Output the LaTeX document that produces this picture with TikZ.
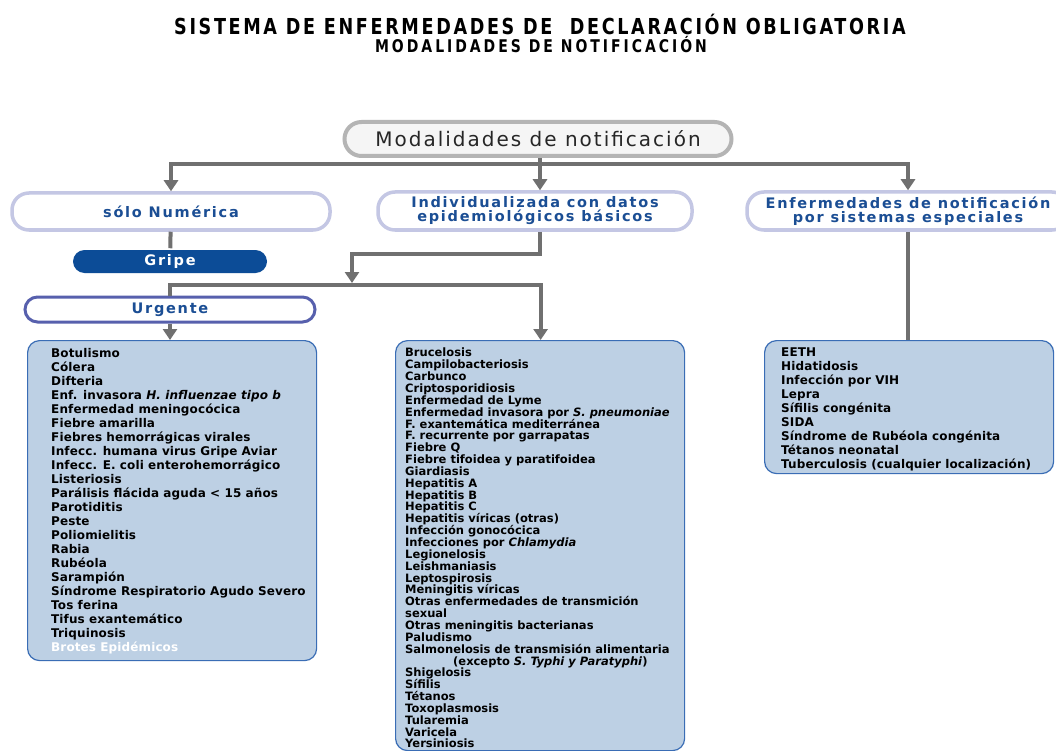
\documentclass[tikz,border=0pt]{standalone}
\usepackage{fontspec}
\setmainfont{DejaVu Sans}
\newfontfamily\titlefont[FakeStretch=0.8, LetterSpace=12]{DejaVu Sans}
\newfontfamily\subtitlefont[FakeStretch=0.8, LetterSpace=17]{DejaVu Sans}
\newfontfamily\headfont[LetterSpace=10]{DejaVu Sans}
\newfontfamily\pillfont[LetterSpace=12]{DejaVu Sans}
\newfontfamily\listfont[LetterSpace=1]{DejaVu Sans}
\newfontfamily\midlistfont[LetterSpace=0]{DejaVu Sans}
\newcommand\tightlines{\lineskiplimit=-20pt\relax}
\usetikzlibrary{arrows.meta}
\usetikzlibrary{positioning, calc}

\definecolor{linkgray}{HTML}{707070}
\definecolor{pillblue}{HTML}{1B4E94}
\definecolor{gripeblue}{HTML}{0C4C97}
\definecolor{boxfill}{HTML}{BDD0E4}
\definecolor{boxline}{HTML}{3A6DB5}
\definecolor{pillring}{HTML}{C4C7E4}
\definecolor{urgring}{HTML}{5760AD}
\definecolor{headring}{HTML}{B4B4B4}

\begin{document}
\begin{tikzpicture}[x=1pt, y=-1pt,
    link/.style={linkgray, line width=4pt},
    arrow/.style={link, -{Triangle[width=14pt, length=11pt]}},
    pill/.style={draw=pillring, line width=3.5pt, fill=white, rounded corners=17pt, inner sep=0pt, align=center, text=pillblue, font=\pillfont\bfseries\fontsize{14.5}{14}\selectfont},
    headpill/.style={pill, draw=headring, fill=gray!8, line width=4pt, text=black!85, font=\headfont\fontsize{20}{20}\selectfont},
    listbox/.style={draw=boxline, line width=1.2pt, fill=boxfill, rounded corners=12pt, anchor=north west},
    listtext/.style={inner sep=0pt, align=left, anchor=north west, font=\listfont\bfseries\fontsize{12}{14}\selectfont\tightlines}
]
    \fill[white] (0,0) rectangle (1056,751);
    \useasboundingbox (0,0) rectangle (1056,751);

    \node[font=\titlefont\bfseries\fontsize{22}{22}\selectfont] (title) at (540,24) {SISTEMA DE ENFERMEDADES DE \ DECLARACIÓN OBLIGATORIA};
    \node[font=\subtitlefont\bfseries\fontsize{17.5}{18}\selectfont] (subtitle) at (541,45) {MODALIDADES DE NOTIFICACIÓN};

    \node[headpill, minimum width=387pt, minimum height=34pt] (mod) at (538,139) {Modalidades de notificación};

    \node[pill, minimum width=318pt, minimum height=37pt] (num) at (171,211.5) {sólo Numérica};
    \node[pill, minimum width=314pt, minimum height=38pt] (ind) at (535,211) {Individualizada con datos\\epidemiológicos básicos};
    \node[pill, minimum width=322pt, minimum height=38pt] (esp) at (908,211) {Enfermedades de notificación\\por sistemas especiales};

    \node[pill, draw=none, fill=gripeblue, text=white, rounded corners=11.5pt, minimum width=194pt, minimum height=23pt] (gripe) at (170,261.5) {Gripe};
    \node[pill, draw=urgring, line width=3pt, rounded corners=12.5pt, minimum width=290pt, minimum height=25pt] (urg) at (170,309.5) {Urgente};

    % disease lists
    \node[listbox, minimum width=289pt, minimum height=320pt] (urgbox) at (27,340) {};
    \node[listbox, minimum width=289pt, minimum height=410pt] (indbox) at (395,340) {};
    \node[listbox, minimum width=289pt, minimum height=133pt] (espbox) at (764,340) {};

    \node[listtext, below right=8pt and 24pt of urgbox.north west] (urglist) {Botulismo\\
        Cólera\\
        Difteria\\
        Enf. invasora \textit{H. influenzae tipo b}\\
        Enfermedad meningocócica\\
        Fiebre amarilla\\
        Fiebres hemorrágicas virales\\
        Infecc. humana virus Gripe Aviar\\
        Infecc. E. coli enterohemorrágico\\
        Listeriosis\\
        Parálisis flácida aguda < 15 años\\
        Parotiditis\\
        Peste\\
        Poliomielitis\\
        Rabia\\
        Rubéola\\
        Sarampión\\
        Síndrome Respiratorio Agudo Severo\\
        Tos ferina\\
        Tifus exantemático\\
        Triquinosis\\
        \textcolor{white}{Brotes Epidémicos}};
    \node[listtext, font=\midlistfont\bfseries\fontsize{11.5}{11.85}\selectfont\tightlines, below right=8pt and 10pt of indbox.north west] (indlist) {Brucelosis\\
        Campilobacteriosis\\
        Carbunco\\
        Criptosporidiosis\\
        Enfermedad de Lyme\\
        Enfermedad invasora por \textit{S. pneumoniae}\\
        F. exantemática mediterránea\\
        F. recurrente por garrapatas\\
        Fiebre Q\\
        Fiebre tifoidea y paratifoidea\\
        Giardiasis\\
        Hepatitis A\\
        Hepatitis B\\
        Hepatitis C\\
        Hepatitis víricas (otras)\\
        Infección gonocócica\\
        Infecciones por \textit{Chlamydia}\\
        Legionelosis\\
        Leishmaniasis\\
        Leptospirosis\\
        Meningitis víricas\\
        Otras enfermedades de transmición\\
        sexual\\
        Otras meningitis bacterianas\\
        Paludismo\\
        Salmonelosis de transmisión alimentaria\\
        \hspace*{48pt}(excepto \textit{S. Typhi y Paratyphi})\\
        Shigelosis\\
        Sífilis\\
        Tétanos\\
        Toxoplasmosis\\
        Tularemia\\
        Varicela\\
        Yersiniosis};
    \node[listtext, below right=8pt and 17pt of espbox.north west] (esplist) {EETH\\
        Hidatidosis\\
        Infección por VIH\\
        Lepra\\
        Sífilis congénita\\
        SIDA\\
        Síndrome de Rubéola congénita\\
        Tétanos neonatal\\
        Tuberculosis (cualquier localización)};

    % connectors
    \coordinate (hub) at ($(mod.south)+(2,6)$);
    \draw[link] (mod.south -| hub) -- (hub);
    \draw[arrow] (hub) -| (num.north);
    \draw[arrow] (hub) -- (hub |- ind.north);
    \draw[arrow] (hub) -| (esp.north);

    \draw[link] (num) -- (gripe);
    \coordinate (bar) at ($(indbox.north)+(0.5,-55)$);
    \coordinate (drop) at (352,283);
    \draw[arrow] (ind.south -| hub) -- ++(0,22) -| (drop);
    \draw[arrow] (urg.north) |- (bar) -- (bar |- indbox.north);
    \draw[arrow] (urg.south) -- (urg.south |- urgbox.north);
    \draw[link] (esp.south) -- (esp.south |- espbox.north);

\end{tikzpicture}
\end{document}
